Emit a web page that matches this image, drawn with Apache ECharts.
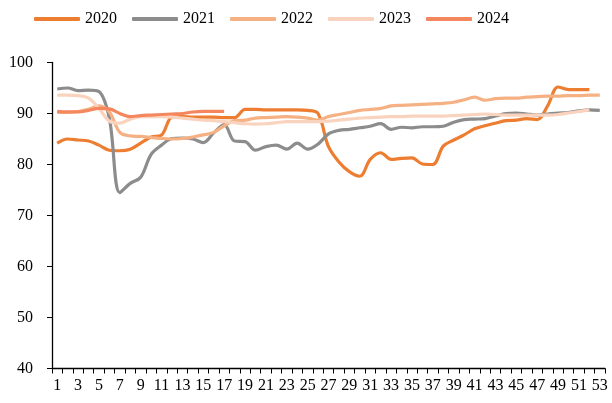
<!DOCTYPE html>
<html><head><meta charset="utf-8">
<script src="https://cdn.jsdelivr.net/npm/echarts@6/dist/echarts.min.js"></script>
<style>html,body{margin:0;padding:0;background:#fff}#c{width:612px;height:403px}</style>
</head><body><div id="c"></div>
<script>
const weeks = Array.from({length: 53}, (_, i) => String(i + 1));
const seriesNames = ['2020', '2021', '2022', '2023', '2024'];
const colors = ['#ED7D31', '#8C8C8C', '#F5B183', '#FAD3BE', '#F5875F'];
const yTicks = {min: 40, max: 100, interval: 10};

const v2020 = [84.2,85.0,84.8,84.6,83.8,82.8,82.7,83.0,84.2,85.4,85.8,89.3,89.4,89.3,89.3,89.3,89.2,89.2,90.8,90.8,90.7,90.7,90.7,90.7,90.6,90.0,83.5,80.5,78.6,77.7,81.0,82.3,81.0,81.2,81.3,80.1,80.0,83.6,84.8,85.8,87.0,87.6,88.1,88.6,88.7,89.0,88.8,91.5,95.2,94.7,94.7,94.7];
const v2021 = [94.8,95.0,94.5,94.6,94.3,89.0,74.5,76.3,77.5,82.0,83.8,85.1,85.2,85.0,84.3,86.2,87.8,84.6,84.5,82.8,83.5,83.8,83.0,84.2,83.0,84.0,86.0,86.7,86.9,87.2,87.5,88.0,86.9,87.3,87.2,87.4,87.4,87.5,88.3,88.8,88.9,89.0,89.5,90.0,90.1,89.9,89.7,89.9,90.1,90.2,90.5,90.7,90.6];
const v2022 = [90.2,90.2,90.4,90.8,91.5,90.3,86.3,85.6,85.5,85.3,85.1,85.0,85.1,85.4,85.8,86.3,87.6,88.6,88.7,89.1,89.2,89.3,89.4,89.3,89.1,88.7,89.4,89.8,90.2,90.6,90.8,91.0,91.5,91.6,91.7,91.8,91.9,92.0,92.2,92.7,93.2,92.6,92.9,93.0,93.0,93.2,93.3,93.4,93.4,93.5,93.5,93.6,93.6];
const v2023 = [93.6,93.6,93.5,93.0,91.0,88.5,88.1,88.9,89.4,89.4,89.4,89.3,89.1,88.9,88.7,88.6,88.4,88.2,88.0,87.9,88.0,88.2,88.4,88.4,88.4,88.4,88.5,88.7,88.9,89.1,89.2,89.3,89.4,89.4,89.5,89.5,89.5,89.5,89.6,89.7,89.8,89.9,89.8,89.7,89.7,89.7,89.7,89.7,89.8,90.1,90.4,90.7];
const v2024 = [90.4,90.3,90.3,90.6,91.0,90.9,90.0,89.4,89.6,89.7,89.8,89.9,90.0,90.3,90.4,90.4,90.4];

const allValues = [v2020, v2021, v2022, v2023, v2024];
const font = 'Liberation Serif, Times New Roman, serif';

const chart = echarts.init(document.getElementById('c'), null, {renderer: 'canvas'});
chart.setOption({
  animation: false,
  color: colors,
  textStyle: {fontFamily: font},
  legend: {
    left: 29, top: 6,
    icon: 'roundRect',
    itemWidth: 46, itemHeight: 4, itemGap: 15,
    textStyle: {fontFamily: font, fontSize: 16, color: '#000'},
    data: seriesNames
  },
  grid: {left: 52, right: 7, top: 62.5, bottom: 34.5, containLabel: false},
  xAxis: {
    type: 'category',
    data: weeks,
    boundaryGap: true,
    axisLine: {lineStyle: {color: '#000', width: 1.3}},
    axisTick: {show: true, interval: 0, length: 5, lineStyle: {color: '#000'}},
    axisLabel: {interval: 1, color: '#000', fontFamily: font, fontSize: 16, margin: 9}
  },
  yAxis: {
    type: 'value',
    min: yTicks.min, max: yTicks.max, interval: yTicks.interval,
    axisLine: {show: true, lineStyle: {color: '#000', width: 1.3}},
    axisTick: {show: true, length: 5, lineStyle: {color: '#000'}},
    splitLine: {show: false},
    axisLabel: {color: '#000', fontFamily: font, fontSize: 16, margin: 19}
  },
  series: seriesNames.map((n, i) => ({
    name: n,
    type: 'line',
    data: allValues[i],
    smooth: 0.35,
    symbol: 'none',
    lineStyle: {width: 3.2, color: colors[i]},
    itemStyle: {color: colors[i]}
  }))
});
</script></body></html>
